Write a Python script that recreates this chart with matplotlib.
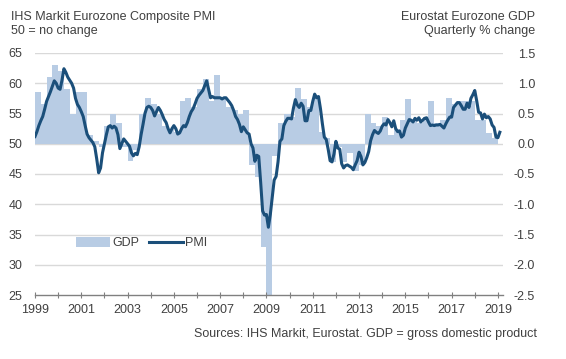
import matplotlib.pyplot as plt
import numpy as np

plt.rcParams['font.family'] = ['Liberation Sans', 'DejaVu Sans']

# IHS Markit Eurozone Composite PMI, monthly from Jan 1999
pmi = [
    51.2, 52.0, 53.0, 53.8, 54.5, 55.7, 57.0, 57.8, 58.6, 59.5, 60.4, 60.0,  # 1999
    59.2, 59.0, 60.5, 62.4, 61.8, 61.0, 60.5, 60.0, 59.2, 57.5, 56.5, 56.0,  # 2000
    55.3, 54.5, 53.0, 51.6, 51.0, 50.6, 50.2, 49.5, 47.5, 45.2, 46.0, 48.5,  # 2001
    50.0, 51.5, 52.8, 53.0, 52.6, 52.9, 52.6, 51.5, 49.2, 50.0, 50.8, 50.4,  # 2002
    50.0, 49.6, 48.5, 48.0, 48.4, 48.2, 49.5, 51.5, 53.2, 55.0, 56.0, 56.2,  # 2003
    56.0, 55.5, 54.6, 55.3, 56.0, 55.5, 54.8, 54.0, 53.5, 52.5, 51.8, 52.5,  # 2004
    53.0, 52.5, 51.6, 51.8, 52.5, 53.0, 52.8, 53.5, 54.5, 55.3, 55.8, 56.6,  # 2005
    57.5, 58.0, 58.4, 58.8, 59.6, 60.4, 59.0, 57.6, 57.8, 57.6, 57.6, 57.6,  # 2006
    57.6, 57.4, 57.6, 57.6, 57.2, 56.8, 56.3, 55.5, 54.5, 54.0, 53.2, 52.0,  # 2007
    52.8, 52.3, 51.8, 51.6, 50.0, 49.3, 47.1, 48.1, 47.9, 43.6, 38.9, 38.2,  # 2008
    38.3, 36.2, 38.3, 41.1, 44.0, 44.6, 47.0, 50.4, 50.8, 53.0, 53.7, 54.2,  # 2009
    54.2, 54.1, 55.9, 57.3, 56.4, 56.0, 56.7, 56.2, 53.8, 53.8, 55.5, 55.5,  # 2010
    57.0, 58.2, 57.6, 57.8, 55.8, 53.3, 51.1, 50.7, 49.1, 47.2, 47.0, 48.3,  # 2011
    50.4, 49.3, 49.1, 46.7, 46.0, 46.4, 46.5, 46.3, 46.1, 45.7, 46.5, 47.2,  # 2012
    48.6, 47.9, 46.5, 46.9, 47.7, 48.7, 50.5, 51.5, 52.2, 51.9, 51.7, 52.1,  # 2013
    52.9, 53.3, 53.1, 54.0, 53.5, 52.8, 53.8, 52.5, 52.0, 52.1, 51.1, 51.4,  # 2014
    52.6, 53.3, 54.0, 53.9, 53.6, 54.2, 53.9, 54.3, 53.6, 53.9, 54.2, 54.3,  # 2015
    53.6, 53.0, 53.1, 53.0, 53.1, 53.1, 53.2, 52.9, 52.6, 53.3, 53.9, 54.4,  # 2016
    54.4, 56.0, 56.4, 56.8, 56.8, 56.3, 55.7, 55.7, 56.7, 56.0, 57.5, 58.1,  # 2017
    58.8, 57.1, 55.2, 55.1, 54.1, 54.9, 54.3, 54.5, 54.1, 53.1, 52.7, 51.1,  # 2018
    51.0, 51.9,                                                              # 2019
]

# Eurostat Eurozone GDP, quarterly % change from Q1 1999
gdp = [
    0.85, 0.65, 1.1, 1.3,      # 1999
    1.2, 0.9, 0.5, 0.85,       # 2000
    0.85, 0.15, 0.05, -0.05,   # 2001
    0.3, 0.5, 0.35, -0.05,     # 2002
    -0.28, -0.1, 0.5, 0.76,    # 2003
    0.65, 0.5, 0.3, 0.25,      # 2004
    0.2, 0.7, 0.76, 0.6,       # 2005
    0.9, 1.07, 0.7, 1.13,      # 2006
    0.75, 0.6, 0.55, 0.5,      # 2007
    0.55, -0.35, -0.55, -1.7,  # 2008
    -3.0, -0.2, 0.35, 0.5,     # 2009
    0.45, 0.92, 0.74, 0.6,     # 2010
    0.8, 0.2, 0.1, -0.3,       # 2011
    -0.05, -0.3, -0.15, -0.45, # 2012
    -0.35, 0.5, 0.35, 0.3,     # 2013
    0.45, 0.15, 0.25, 0.4,     # 2014
    0.74, 0.4, 0.35, 0.45,     # 2015
    0.7, 0.35, 0.4, 0.75,      # 2016
    0.65, 0.7, 0.7, 0.7,       # 2017
    0.4, 0.4, 0.17, 0.1,       # 2018
]

years = list(range(1999, 2020))
year_labels = [str(y) if y % 2 == 1 else '' for y in years]

pmi_x = 1999 + np.arange(len(pmi)) / 12
gdp_x = 1999 + np.arange(len(gdp)) / 4

bar_color = '#b8cce4'
line_color = '#1b4f7a'
text_color = '#404040'

fig = plt.figure(figsize=(5.66, 3.59), dpi=100)
ax = fig.add_axes([35 / 566, 64 / 359, 468 / 566, 242 / 359])
ax2 = ax.twinx()
ax.set_zorder(ax2.get_zorder() + 1)
ax.patch.set_visible(False)

# GDP bars (right scale)
bars = ax2.bar(gdp_x, gdp, width=0.25, align='edge', color=bar_color,
               linewidth=0, label='GDP')
ax2.set_ylim(-2.5, 1.5)
ax2.set_yticks(np.arange(-2.5, 1.51, 0.5))
ax2.set_yticklabels(['%.1f' % v for v in np.arange(-2.5, 1.51, 0.5)],
                    ha='right')
ax2.tick_params(axis='y', length=0, pad=23, labelsize=9, labelcolor=text_color)
ax2.set_axisbelow(True)
for v in np.arange(-2.0, 1.51, 0.5):
    ax2.axhline(v, color='#d9d9d9', linewidth=1.0, zorder=0)

# PMI line (left scale)
line, = ax.plot(pmi_x, pmi, color=line_color, linewidth=2.2, label='PMI',
                solid_joinstyle='round')
ax.set_ylim(25, 65)
ax.set_yticks(range(25, 66, 5))
ax.tick_params(axis='y', length=0, pad=9, labelsize=9, labelcolor=text_color)

ax.set_xlim(1999, 2019.22)
ax.set_xticks(years)
ax.set_xticklabels(year_labels)
ax.tick_params(axis='x', direction='inout', length=5, width=0.8,
               color='#808080', pad=4, labelsize=9, labelcolor=text_color)

for a in (ax, ax2):
    for s in ('top', 'left', 'right'):
        a.spines[s].set_visible(False)
    a.spines['bottom'].set_visible(False)
ax.spines['bottom'].set_visible(True)
ax.spines['bottom'].set_color('#808080')
ax.spines['bottom'].set_linewidth(1.0)

ax.legend([bars, line], ['GDP', 'PMI'], loc='center left',
          bbox_to_anchor=((76 - 35) / 468, (295 - 243) / 242), ncol=2,
          frameon=False, fontsize=9, handlelength=2.7, handleheight=0.9,
          handletextpad=0.2, columnspacing=0.8, borderaxespad=0,
          borderpad=0, labelcolor=text_color)

fig.text(11 / 566, 1 - 20 / 359, 'IHS Markit Eurozone Composite PMI',
         fontsize=9, color=text_color, ha='left', va='baseline')
fig.text(11 / 566, 1 - 34 / 359, '50 = no change',
         fontsize=9, color=text_color, ha='left', va='baseline')
fig.text(535 / 566, 1 - 20 / 359, 'Eurostat Eurozone GDP',
         fontsize=9, color=text_color, ha='right', va='baseline')
fig.text(535 / 566, 1 - 34 / 359, 'Quarterly % change',
         fontsize=9, color=text_color, ha='right', va='baseline')
fig.text(537 / 566, 1 - 337 / 359,
         'Sources: IHS Markit, Eurostat. GDP = gross domestic product',
         fontsize=9, color=text_color, ha='right', va='baseline')

fig.savefig('out.png', dpi=100)
